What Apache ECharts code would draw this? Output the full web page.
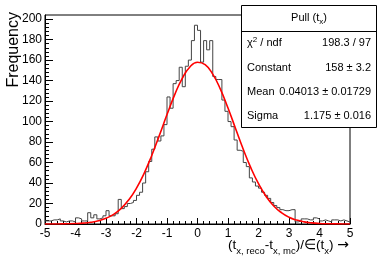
<!DOCTYPE html>
<html>
<head>
<meta charset="utf-8">
<script src="https://cdn.jsdelivr.net/npm/echarts@6/dist/echarts.min.js"></script>
<style>
html,body{margin:0;padding:0;background:#fff;}
#chart{width:382px;height:262px;}
</style>
</head>
<body>
<div id="chart"></div>
<script>
// Histogram: 100 bins from -5 to 5
const xMin = -5, xMax = 5, binWidth = 0.1;
const counts = [
  3,3,4,4,5,3,2,3,3,2,
  6,5,3,3,11,6,9,5,6,8,
  13,8,8,10,24,15,17,20,21,23,
  28,31,40,51,61,73,85,81,86,97,
  124,113,137,140,153,134,154,160,179,194,
  189,158,179,170,179,144,141,141,121,110,
  100,95,82,72,71,60,56,45,41,37,
  35,31,28,25,21,18,16,14,13,13,
  14,14,2,3,5,5,4,4,6,5,
  3,4,3,2,4,4,3,4,3,2
];
// Fitted gaussian curve
const fitX = [-5,-4.75,-4.5,-4.25,-4,-3.75,-3.5,-3.25,-3,-2.75,-2.5,-2.25,-2,-1.75,-1.5,-1.25,-1,-0.75,-0.5,-0.25,0,0.25,0.5,0.75,1,1.25,1.5,1.75,2,2.25,2.5,2.75,3,3.25,3.5,3.75,4,4.25,4.5,4.75,5];
const fitY = [0,0.04,0.09,0.2,0.43,0.87,1.7,3.1,5.6,9.4,15.3,23.7,35,49.5,66.9,86.5,106.8,126,142.2,153.3,157.9,155.5,146.3,131.6,113.2,93,73,54.8,39.3,26.9,17.6,11.1,6.6,3.8,2.1,1.1,0.54,0.26,0.12,0.05,0.02];
const yMajor = [0,20,40,60,80,100,120,140,160,180,200];
const yMinor = [4,8,12,16,24,28,32,36,44,48,52,56,64,68,72,76,84,88,92,96,104,108,112,116,124,128,132,136,144,148,152,156,164,168,172,176,184,188,192,196];
const statsTitle = 'Pull';
const statsRows = [
  ['chi2', '198.3 / 97'],
  ['Constant', '158 \u00b1 3.2'],
  ['Mean', '0.04013 \u00b1 0.01729'],
  ['Sigma', '1.175 \u00b1 0.016']
];

const histData = counts.map((c, i) => [+(xMin + i * binWidth).toFixed(2), c]);
histData.push([xMax, counts[counts.length - 1]]);
const fitData = fitX.map((x, i) => [x, fitY[i]]);

const FONT = 'Liberation Sans, Arial, Helvetica, sans-serif';
const chart = echarts.init(document.getElementById('chart'), null, {renderer: 'canvas'});

const rowY = [43, 67.5, 91.5, 116];
const graphics = [
  {type: 'rect', z: 100, shape: {x: 241.5, y: 5.5, width: 135, height: 122}, style: {fill: '#fff', stroke: '#000', lineWidth: 1}},
  {type: 'line', z: 101, shape: {x1: 241.5, y1: 31.5, x2: 376.5, y2: 31.5}, style: {stroke: '#000', lineWidth: 1}},
  {type: 'text', z: 102, x: 309, y: 18, style: {
    text: '{a|' + statsTitle + ' (t}{s|x}{a|)}', align: 'center', verticalAlign: 'middle',
    rich: {a: {fontFamily: FONT, fontSize: 11, fill: '#000', lineHeight: 15, verticalAlign: 'middle'},
           s: {fontFamily: FONT, fontSize: 8, fill: '#000', lineHeight: 13, verticalAlign: 'bottom'}}}}
];
statsRows.forEach((r, i) => {
  if (r[0] === 'chi2') {
    graphics.push({type: 'text', z: 102, x: 247, y: rowY[i], style: {
      text: '{a|\u03c7}{p|2}{a| / ndf}', align: 'left', verticalAlign: 'middle',
      rich: {a: {fontFamily: FONT, fontSize: 11, fill: '#000', lineHeight: 15, verticalAlign: 'middle'},
             p: {fontFamily: FONT, fontSize: 8, fill: '#000', lineHeight: 13, verticalAlign: 'top'}}}});
  } else {
    graphics.push({type: 'text', z: 102, x: 247, y: rowY[i], style: {
      text: r[0], font: '11px ' + FONT, fill: '#000', align: 'left', verticalAlign: 'middle'}});
  }
  graphics.push({type: 'text', z: 102, x: 371, y: rowY[i], style: {
    text: r[1], font: '11px ' + FONT, fill: '#000', align: 'right', verticalAlign: 'middle'}});
});
// Y axis title
graphics.push({type: 'text', z: 50, x: 14, y: 12, rotation: Math.PI / 2, style: {
  text: 'Frequency', font: '16px ' + FONT, fill: '#000', align: 'right', verticalAlign: 'middle'}});
// X axis title
graphics.push({type: 'text', z: 50, x: 349, y: 245, style: {
  text: '{n|(t}{s|x, reco}{n|-t}{s|x, mc}{n|)/\u2208(t}{s|x}{n|) }{r|\u2192}',
  align: 'right', verticalAlign: 'middle',
  rich: {n: {fontFamily: FONT, fontSize: 13.5, fill: '#000', lineHeight: 22, verticalAlign: 'middle'},
         r: {fontFamily: 'DejaVu Sans', fontSize: 14, fill: '#000', lineHeight: 22, verticalAlign: 'middle'},
         s: {fontFamily: FONT, fontSize: 9.5, fill: '#000', lineHeight: 11, verticalAlign: 'bottom'}}}});

chart.setOption({
  animation: false,
  backgroundColor: '#fff',
  grid: {left: 45, right: 32, top: 15, bottom: 38, show: true, borderColor: '#000', borderWidth: 1, backgroundColor: 'transparent'},
  xAxis: {
    type: 'value', min: xMin, max: xMax, interval: 1,
    axisLine: {show: true, onZero: false, lineStyle: {color: '#000', width: 1}},
    axisTick: {show: true, inside: true, length: 6, lineStyle: {color: '#000'}},
    minorTick: {show: true, splitNumber: 5, length: 3, lineStyle: {color: '#000'}},
    axisLabel: {fontFamily: FONT, fontSize: 12, color: '#000', margin: 4},
    splitLine: {show: false}
  },
  yAxis: [{
    type: 'value', min: 0, max: 204, position: 'left',
    axisLine: {show: true, onZero: false, lineStyle: {color: '#000', width: 1}},
    axisTick: {show: true, inside: true, length: 8, customValues: yMajor, lineStyle: {color: '#000'}},
    axisLabel: {fontFamily: FONT, fontSize: 12, color: '#000', margin: 3, customValues: yMajor},
    splitLine: {show: false}
  }, {
    type: 'value', min: 0, max: 204, position: 'left', offset: 0,
    axisLine: {show: false, onZero: false},
    axisTick: {show: true, inside: true, length: 4, customValues: yMinor, lineStyle: {color: '#000'}},
    axisLabel: {show: false},
    splitLine: {show: false}
  }],
  series: [{
    type: 'line', step: 'end', data: histData, symbol: 'none', yAxisIndex: 0,
    lineStyle: {color: '#444', width: 1}, z: 3
  }, {
    type: 'line', data: fitData, symbol: 'none', smooth: true, yAxisIndex: 0,
    lineStyle: {color: '#ff0000', width: 1.6}, z: 4
  }],
  graphic: graphics
});
</script>
</body>
</html>
